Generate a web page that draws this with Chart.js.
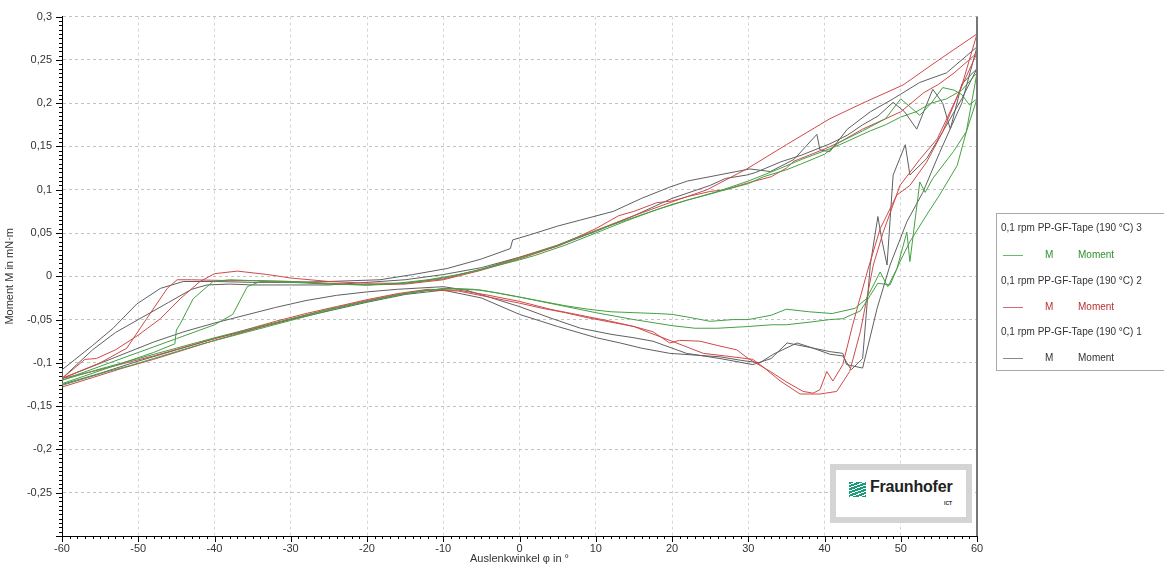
<!DOCTYPE html>
<html lang="de">
<head>
<meta charset="UTF-8">
<title>Moment über Auslenkwinkel</title>
<script src="https://cdn.jsdelivr.net/npm/chart.js"></script>
<style>
    body {
        margin: 0;
        background: #fff;
        font-family: "Liberation Sans", Arial, sans-serif;
        overflow: hidden;
    }

    .wrap {
        position: relative;
        width: 1164px;
        height: 567px;
        overflow: hidden;
    }

    .legend {
        position: absolute;
        left: 996px;
        top: 213px;
        width: 180px;
        height: 156px;
        border: 1px solid #a8a8a8;
        font-size: 10px;
        color: #333;
    }

    .legend div {
        position: absolute;
        white-space: nowrap;
        line-height: 12px;
    }

    .legend .swatch {
        height: 1px;
        width: 20px;
    }

    .logo {
        position: absolute;
        left: 830px;
        top: 464px;
        width: 142px;
        height: 59px;
        box-sizing: border-box;
        border: 6px solid #d4d4d4;
        background: #fff;
    }

    .logo .icon {
        position: absolute;
        left: 13px;
        top: 12px;
        width: 17px;
        height: 15px;
        background: repeating-linear-gradient(160deg, #1b9a78 0px, #1b9a78 2px, #fff 2px, #fff 3px);
    }

    .logo .name {
        position: absolute;
        left: 34px;
        top: 8px;
        font-size: 16px;
        font-weight: bold;
        color: #222;
        letter-spacing: -0.2px;
    }

    .logo .ict {
        position: absolute;
        left: 108px;
        top: 30px;
        font-size: 5px;
        font-weight: bold;
        color: #333;
    }
</style>
</head>
<body>
<div class="wrap">
    <canvas id="chart" width="1164" height="567"></canvas>

    <div class="legend">
        <div style="left:4px; top:8px;">0,1 rpm PP-GF-Tape (190 °C) 3</div>
        <div class="swatch" style="left:6px; top:41px; background:#6cb86c;"></div>
        <div style="left:48px; top:35px; color:#2f8f2f;">M</div>
        <div style="left:81px; top:35px; color:#2f8f2f;">Moment</div>
        <div style="left:4px; top:61px;">0,1 rpm PP-GF-Tape (190 °C) 2</div>
        <div class="swatch" style="left:6px; top:93px; background:#d86a6a;"></div>
        <div style="left:48px; top:87px; color:#b83232;">M</div>
        <div style="left:81px; top:87px; color:#b83232;">Moment</div>
        <div style="left:4px; top:112px;">0,1 rpm PP-GF-Tape (190 °C) 1</div>
        <div class="swatch" style="left:6px; top:144px; background:#8a8a8a;"></div>
        <div style="left:48px; top:138px;">M</div>
        <div style="left:81px; top:138px;">Moment</div>
    </div>

    <div class="logo">
        <div class="icon"></div>
        <div class="name">Fraunhofer</div>
        <div class="ict">ICT</div>
    </div>
</div>

<script>
    // Messkurven: Auslenkwinkel (°) und Moment (mN·m), je Probe zwei Zyklen
    // Reihenfolge je Probe: hin 1, zurück 1, hin 2, zurück 2

    // Probe 3 (grün)
    const phi3 = [
        -60, -57, -54, -51, -48, -45, -42, -39, -36, -33,
        -30, -27, -24, -21, -18, -15, -12, -9, -6, -3,
        0, 3, 6, 9, 12, 15, 18, 20, 22, 25,
        28, 30, 33, 35, 38, 41, 44, 45.5, 47.3, 48.3,
        49.5, 50.8, 51.2, 52.5, 53.2, 54.2, 56.9, 58.6, 60,

        60, 59, 58, 57, 55.5, 54, 52.5, 50, 48, 45,
        42, 40, 37, 35, 32, 30, 27, 25, 22, 20,
        17, 15, 12, 10, 7, 5, 2, 0, -3, -6,
        -10, -15, -20, -25, -30, -34, -35.7, -37.6, -40, -45,
        -50, -55, -60,

        -60, -55, -50, -45, -40, -35, -30, -25, -20, -15,
        -10, -5, 0, 5, 10, 15, 20, 23, 26, 30,
        33, 35, 38, 40.7, 42.4, 44.7, 46, 47, 48.6, 49.9,
        51.2, 53.4, 55.1, 57.4, 58.6, 60,

        60, 58, 56, 54, 52, 50, 48, 46, 44, 42,
        40, 37, 34, 30, 26, 22, 18, 14, 10, 6,
        2, 0, -4, -8, -12, -16, -20, -25, -30, -35,
        -38, -40.2, -42.8, -44.5, -45, -45.2, -48, -52, -56, -60
    ];
    const m3 = [
        -0.126, -0.118, -0.110, -0.103, -0.095, -0.087, -0.079, -0.072, -0.065, -0.058,
        -0.051, -0.044, -0.037, -0.031, -0.025, -0.020, -0.016, -0.014, -0.015, -0.019,
        -0.024, -0.029, -0.034, -0.038, -0.041, -0.042, -0.043, -0.044, -0.047, -0.052,
        -0.050, -0.050, -0.045, -0.038, -0.041, -0.043, -0.037, -0.026, 0.005, -0.012,
        0.009, 0.051, 0.017, 0.109, 0.097, 0.113, 0.144, 0.167, 0.205,

        0.205, 0.198, 0.210, 0.215, 0.218, 0.200, 0.186, 0.205, 0.182, 0.168,
        0.155, 0.141, 0.130, 0.123, 0.115, 0.107, 0.100, 0.095, 0.088, 0.083,
        0.074, 0.068, 0.059, 0.052, 0.043, 0.036, 0.027, 0.021, 0.013, 0.006,
        -0.002, -0.008, -0.010, -0.009, -0.007, -0.006, -0.012, -0.044, -0.056, -0.072,
        -0.088, -0.104, -0.120,

        -0.120, -0.107, -0.095, -0.083, -0.071, -0.060, -0.049, -0.038, -0.029, -0.020,
        -0.014, -0.016, -0.024, -0.033, -0.042, -0.050, -0.057, -0.060, -0.060, -0.058,
        -0.056, -0.056, -0.053, -0.050, -0.049, -0.040, -0.022, -0.008, -0.010, 0.017,
        0.040, 0.071, 0.094, 0.128, 0.167, 0.235,

        0.235, 0.215, 0.205, 0.200, 0.190, 0.184, 0.175, 0.168, 0.160, 0.152,
        0.145, 0.135, 0.124, 0.110, 0.098, 0.088, 0.077, 0.064, 0.050, 0.036,
        0.024, 0.019, 0.010, 0.002, -0.004, -0.008, -0.010, -0.009, -0.006, -0.005,
        -0.004, -0.006, -0.026, -0.055, -0.062, -0.078, -0.088, -0.100, -0.112, -0.124
    ];

    // Probe 2 (rot)
    const phi2 = [
        -60, -56, -52, -48, -44, -40, -36, -32, -28, -24,
        -20, -16, -12, -8, -4, 0, 3, 6, 9, 12,
        15, 17.5, 19.7, 21, 23.7, 26, 28.5, 30, 32.9, 35,
        37.2, 38.5, 39.4, 40.3, 41.1, 42.4, 43.7, 45.6, 47.3, 49.5,
        51.2, 53.4, 55.5, 58, 60,

        60, 55, 50.3, 45, 40.7, 35, 29.8, 24.6, 20, 15,
        10, 5, 0, -5, -10, -15, -20, -25, -30, -33,
        -37, -40, -41.9, -44.5, -47.1, -50, -53, -55.5, -57, -60,

        -60, -56, -52, -48, -44, -40, -36, -32, -28, -24,
        -20, -16, -12, -8, -4, 0, 4, 8, 12, 15,
        17, 20, 24.1, 27, 30.6, 32, 34.2, 36.8, 39.4, 41.6,
        43.3, 44.7, 46.4, 47.7, 49.9, 52.5, 54.8, 57, 60,

        60, 57, 55, 53, 50, 47, 45, 42, 40, 38,
        36, 35, 33, 30, 27, 25, 22, 20, 18, 15,
        13, 10, 5, 0, -5, -10, -15, -20, -25, -30,
        -35, -38, -43, -44.9, -46.2, -48.9, -51.5, -55, -60
    ];
    const m2 = [
        -0.128, -0.117, -0.106, -0.096, -0.085, -0.074, -0.064, -0.054, -0.045, -0.036,
        -0.028, -0.021, -0.016, -0.017, -0.024, -0.031, -0.037, -0.042, -0.048, -0.053,
        -0.058, -0.064, -0.077, -0.074, -0.075, -0.080, -0.085, -0.095, -0.110, -0.122,
        -0.133, -0.135, -0.131, -0.110, -0.121, -0.102, -0.056, 0.005, 0.055, 0.094,
        0.105, 0.132, 0.167, 0.220, 0.280,

        0.280, 0.250, 0.221, 0.200, 0.182, 0.152, 0.124, 0.100, 0.086, 0.070,
        0.053, 0.036, 0.022, 0.008, -0.003, -0.008, -0.008, -0.006, -0.002, 0.002,
        0.006, 0.003, -0.006, -0.026, -0.049, -0.068, -0.085, -0.095, -0.096, -0.118,

        -0.118, -0.110, -0.101, -0.092, -0.082, -0.072, -0.062, -0.052, -0.043, -0.035,
        -0.027, -0.020, -0.015, -0.016, -0.022, -0.029, -0.038, -0.045, -0.052, -0.058,
        -0.065, -0.075, -0.089, -0.092, -0.096, -0.105, -0.121, -0.136, -0.136, -0.133,
        -0.110, -0.064, 0.013, 0.051, 0.105, 0.135, 0.159, 0.200, 0.258,

        0.258, 0.235, 0.222, 0.212, 0.190, 0.178, 0.170, 0.155, 0.147, 0.140,
        0.133, 0.125, 0.115, 0.108, 0.100, 0.098, 0.092, 0.087, 0.085, 0.075,
        0.070, 0.055, 0.035, 0.020, 0.007, -0.004, -0.009, -0.010, -0.008, -0.006,
        -0.005, -0.005, -0.004, -0.004, -0.014, -0.049, -0.083, -0.100, -0.118
    ];

    // Probe 1 (grau)
    const phi1 = [
        -60, -56, -52, -48, -44, -40, -36, -32, -28, -24,
        -20, -16, -12, -10, -7, -4, 0, 4, 8, 12,
        15, 17.5, 21.9, 26.3, 30.6, 33, 35.1, 38, 40.7, 42.4,
        42.9, 45, 46.9, 48.6, 50.8, 52.9, 55.1, 58, 60,

        60, 56, 52.5, 49, 46, 43, 40.7, 39.4, 39, 36,
        32.9, 30.2, 26.7, 22, 19.7, 16, 12.3, 8, 5, 1.4,
        -0.9, -1.2, -5, -9.5, -14, -18.3, -25, -30, -35, -40,
        -44.1, -47.1, -50.2, -53.3, -56, -60,

        -60, -55, -50, -45, -40, -35, -30, -25, -20, -15,
        -10, -5, 0, 5, 10.1, 13.2, 16, 19.7, 23, 26.3,
        29, 31.5, 33.3, 36.4, 38.5, 40.7, 42.4, 43.5, 45, 46,
        47, 47.5, 48.2, 49, 50.6, 51.2, 53.4, 55.5, 58, 60,

        60, 58, 56.5, 55.5, 54.2, 53, 52.1, 50.5, 49, 47,
        45, 43, 40.7, 37, 34.2, 31, 29.8, 27, 25, 20,
        15, 10, 5, 0, -5, -10, -15, -20, -25, -30,
        -35, -38, -41, -43, -46, -50, -53, -56, -60
    ];
    const m1 = [
        -0.118, -0.104, -0.090, -0.076, -0.064, -0.054, -0.045, -0.036, -0.028, -0.022,
        -0.018, -0.015, -0.013, -0.012, -0.016, -0.024, -0.035, -0.048, -0.060, -0.067,
        -0.071, -0.075, -0.089, -0.095, -0.102, -0.095, -0.077, -0.082, -0.087, -0.089,
        -0.102, -0.106, -0.037, 0.013, 0.063, 0.097, 0.143, 0.200, 0.265,

        0.265, 0.235, 0.224, 0.205, 0.190, 0.170, 0.144, 0.146, 0.164, 0.135,
        0.121, 0.124, 0.118, 0.110, 0.103, 0.090, 0.075, 0.065, 0.058, 0.048,
        0.042, 0.032, 0.020, 0.009, 0.002, -0.004, -0.006, -0.007, -0.007, -0.006,
        -0.006, -0.014, -0.032, -0.060, -0.080, -0.108,

        -0.125, -0.112, -0.098, -0.085, -0.072, -0.061, -0.050, -0.040, -0.030, -0.021,
        -0.016, -0.025, -0.044, -0.058, -0.071, -0.077, -0.083, -0.089, -0.091, -0.093,
        -0.097, -0.100, -0.090, -0.077, -0.083, -0.090, -0.092, -0.108, -0.095, 0.013,
        0.069, 0.043, 0.013, 0.117, 0.152, 0.117, 0.136, 0.167, 0.205, 0.240,

        0.240, 0.222, 0.170, 0.200, 0.216, 0.190, 0.170, 0.190, 0.201, 0.185,
        0.175, 0.163, 0.153, 0.140, 0.132, 0.120, 0.117, 0.113, 0.105, 0.090,
        0.070, 0.052, 0.035, 0.022, 0.010, 0.002, -0.004, -0.007, -0.010, -0.010,
        -0.010, -0.009, -0.010, -0.015, -0.030, -0.050, -0.065, -0.085, -0.118
    ];

    const xMin = -60, xMax = 60, xStep = 10;
    const yMin = -0.3, yMax = 0.3, yStep = 0.05;

    function points(phi, m) {
        return phi.map((p, i) => ({ x: p, y: m[i] }));
    }

    function fmt(v) {
        return String(Math.round(v * 100) / 100).replace('.', ',');
    }

    // kleine Teilstriche an den Achsen, rechter Rahmen
    const tickMarks = {
        id: 'tickMarks',
        afterDraw(chart) {
            const { ctx, chartArea: a, scales: { x, y } } = chart;
            ctx.save();
            ctx.strokeStyle = '#000';
            ctx.lineWidth = 1;
            ctx.beginPath();
            for (let v = xMin; v <= xMax; v++) {
                const px = Math.round(x.getPixelForValue(v)) + 0.5;
                const len = v % 10 === 0 ? 6 : 3;
                ctx.moveTo(px, a.bottom);
                ctx.lineTo(px, a.bottom + len);
            }
            for (let i = -60; i <= 60; i++) {
                const py = Math.round(y.getPixelForValue(i * 0.005)) + 0.5;
                const len = i % 10 === 0 ? 6 : 3;
                ctx.moveTo(a.left - len, py);
                ctx.lineTo(a.left, py);
            }
            ctx.stroke();
            ctx.strokeStyle = '#777';
            ctx.lineWidth = 2;
            ctx.beginPath();
            ctx.moveTo(a.right, a.top);
            ctx.lineTo(a.right, a.bottom);
            ctx.stroke();
            ctx.restore();
        }
    };

    const ctx = document.getElementById('chart').getContext('2d');
    const momentChart = new Chart(ctx, {
        type: 'scatter',
        data: {
            datasets: [
                { label: 'M Moment 3', data: points(phi3, m3), borderColor: '#45a045' },
                { label: 'M Moment 2', data: points(phi2, m2), borderColor: '#cf4a4a' },
                { label: 'M Moment 1', data: points(phi1, m1), borderColor: '#606060' }
            ]
        },
        options: {
            responsive: false,
            animation: false,
            devicePixelRatio: 1,
            showLine: true,
            elements: {
                point: { radius: 0 },
                line: { borderWidth: 1, tension: 0 }
            },
            layout: { padding: { top: 14, right: 187, left: 0, bottom: 0 } },
            plugins: {
                legend: { display: false },
                tooltip: { enabled: false }
            },
            scales: {
                x: {
                    type: 'linear',
                    min: xMin,
                    max: xMax,
                    afterFit(scale) { scale.height = 31; },
                    ticks: {
                        stepSize: xStep,
                        padding: 6,
                        color: '#333',
                        font: { family: 'Liberation Sans', size: 11 },
                        maxRotation: 0
                    },
                    grid: { color: '#d6d6d6', drawTicks: false },
                    border: { color: '#000', dash: [3, 3] },
                    title: {
                        display: true,
                        text: 'Auslenkwinkel φ in °',
                        color: '#333',
                        font: { family: 'Liberation Sans', size: 11 },
                        padding: { top: 0, bottom: 1 }
                    }
                },
                y: {
                    type: 'linear',
                    min: yMin,
                    max: yMax,
                    afterFit(scale) { scale.width = 62; },
                    ticks: {
                        stepSize: yStep,
                        padding: 10,
                        color: '#333',
                        font: { family: 'Liberation Sans', size: 11 },
                        callback: v => (Math.abs(v - yMin) < 1e-9 ? '' : fmt(v))
                    },
                    grid: { color: '#c2c2c2', drawTicks: false },
                    border: { color: '#000', dash: [3, 3] },
                    title: {
                        display: true,
                        text: 'Moment M in mN·m',
                        color: '#333',
                        font: { family: 'Liberation Sans', size: 11 },
                        padding: { top: 3, bottom: 0 }
                    }
                }
            }
        },
        plugins: [tickMarks]
    });
</script>
</body>
</html>
